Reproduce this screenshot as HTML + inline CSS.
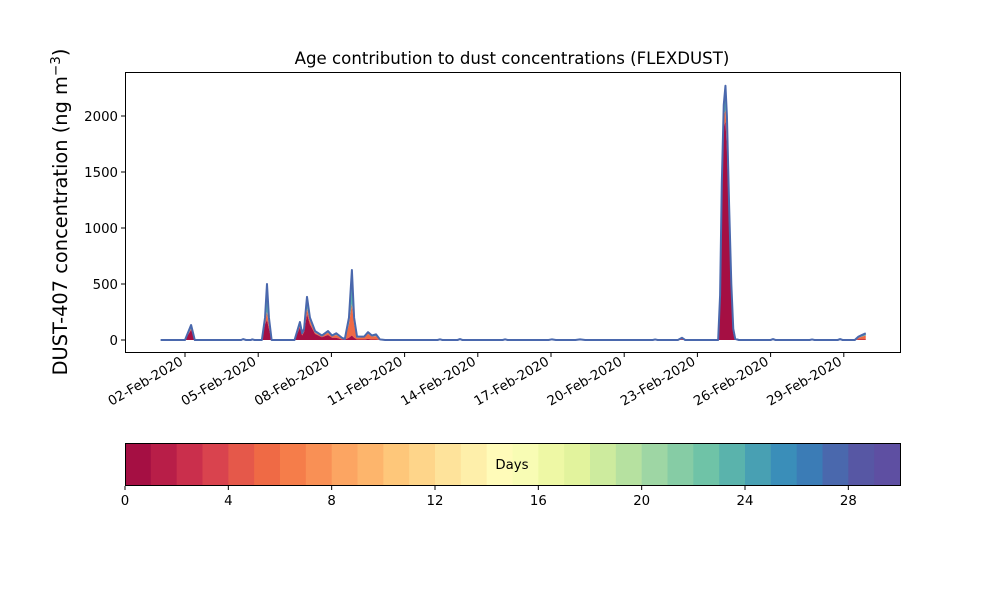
<!DOCTYPE html>
<html><head><meta charset="utf-8"><style>
body{margin:0;background:#fff;font-family:"DejaVu Sans",sans-serif}
svg text{font-family:"DejaVu Sans",sans-serif}
</style></head><body>
<svg id="c" width="1000" height="600"></svg>
<script>
const days=[1,2.0,2.25,2.4,4.3,4.38,4.5,4.7,4.75,4.85,5.15,5.28,5.36,5.44,5.55,6.49,6.71,6.8,6.88,7.0,7.12,7.33,7.61,7.86,8.03,8.2,8.43,8.55,8.72,8.84,8.93,9.05,9.34,9.5,9.66,9.83,9.99,10.2,12.35,12.45,12.55,13.17,13.27,13.37,15.02,15.12,15.22,16.9,17.04,17.2,18.0,18.19,18.4,21.17,21.27,21.37,22.2,22.37,22.5,23.85,23.93,24.0,24.08,24.15,24.21,24.3,24.39,24.47,24.55,24.7,26.0,26.1,26.2,27.6,27.7,27.8,28.75,28.85,28.95,29.45,29.6,29.75,29.9];
const total=[0,0,134,0,0,8,0,0,6,0,0,200,500,200,0,0,160,60,100,385,200,80,40,80,40,60,20,10,200,625,200,30,30,70,40,50,5,0,0,6,0,0,8,0,0,6,0,0,6,0,0,6,0,0,5,0,0,20,0,0,400,1400,2100,2270,2000,1200,500,100,10,0,0,8,0,0,5,0,0,8,0,0,30,45,60];
const red=[0,0,90,0,0,3,0,0,2,0,0,140,180,100,0,0,110,40,70,230,140,55,25,45,20,20,5,3,20,40,20,5,5,10,5,5,1,0,0,1,0,0,1,0,0,1,0,0,1,0,0,1,0,0,1,0,0,5,0,0,300,1200,1900,1950,1700,1000,380,60,3,0,0,2,0,0,1,0,0,2,0,0,5,5,5];
const orange=[0,0,10,0,0,2,0,0,2,0,0,20,70,30,0,0,20,10,10,50,30,10,8,20,12,25,10,5,120,280,120,15,18,45,25,30,2,0,0,2,0,0,3,0,0,2,0,0,2,0,0,2,0,0,2,0,0,8,0,0,40,100,100,100,120,80,50,20,3,0,0,3,0,0,2,0,0,3,0,0,15,25,35];
const yTicks=[0,500,1000,1500,2000];
const xTickDays=[2,5,8,11,14,17,20,23,26,29];
const xTickLabels=["02-Feb-2020","05-Feb-2020","08-Feb-2020","11-Feb-2020","14-Feb-2020","17-Feb-2020","20-Feb-2020","23-Feb-2020","26-Feb-2020","29-Feb-2020"];
const cbTicks=[0,4,8,12,16,20,24,28];
const cbColors=["#a50f43","#b81e48","#ca2f4c","#d9434e","#e5584a","#ef6a45","#f57d4a","#f99055","#fca562","#fdb56c","#fec77a","#fed58a","#fee39b","#feefaa","#fffbb9","#f8fcb4","#eef8a5","#e2f39d","#cdeb9e","#b6e1a0","#9ed6a4","#86cca5","#6fc3a7","#5ab3ac","#48a0b3","#3a8eb9","#3b7cb6","#4a68ad","#5757a4","#5e4fa2"];
const svg=document.getElementById('c');const NS='http://www.w3.org/2000/svg';
function el(t,a,p){const e=document.createElementNS(NS,t);for(const k in a)e.setAttribute(k,a[k]);(p||svg).appendChild(e);return e;}
const X=d=>160.6+(d-1)*24.4, Y=v=>340-v*0.112;
function area(lo,hi,fill,name){let d='M'+X(days[0])+','+Y(hi[0]);for(let i=1;i<days.length;i++)d+='L'+X(days[i])+','+Y(hi[i]);for(let i=days.length-1;i>=0;i--)d+='L'+X(days[i])+','+Y(lo[i]);const p=el('path',{d:d+'Z',fill:fill});}
const zero=days.map(()=>0), ro=red.map((r,i)=>r+orange[i]);
area(ro,total,'#5ab3ac','area-older');
area(red,ro,'#ef6a45','area-mid-age');
area(zero,red,'#a50f43','area-age-0');
let dl='';days.forEach((d,i)=>dl+=(i?'L':'M')+X(d)+','+Y(total[i]));
const ln=el('path',{d:dl,fill:'none',stroke:'#4a68ad','stroke-width':2,'stroke-linejoin':'round'});

const fr=el('rect',{x:125.5,y:72.5,width:775,height:280,fill:'none',stroke:'#000','stroke-width':1});

yTicks.forEach(v=>{el('line',{x1:121,x2:125,y1:Y(v),y2:Y(v),stroke:'#000'});const t=el('text',{x:118,y:Y(v)+5,'text-anchor':'end','font-size':13.3});t.textContent=v;});
xTickDays.forEach((d,i)=>{const x=X(d);el('line',{x1:x,x2:x,y1:353,y2:357,stroke:'#000'});const t=el('text',{x:x-1,y:364,'text-anchor':'end','font-size':13.3,transform:`rotate(-30 ${x-1} 364)`});t.textContent=xTickLabels[i];});
const ti=el('text',{x:512,y:64,'text-anchor':'middle','font-size':16.6});ti.textContent='Age contribution to dust concentrations (FLEXDUST)';
const yt=el('text',{x:0,y:0,'text-anchor':'middle','font-size':19.4,transform:'translate(67,212) rotate(-90)'});yt.innerHTML='DUST-407 concentration (ng m<tspan dy="-7" font-size="13.5">−3</tspan><tspan dy="7">)</tspan>';
const cw=775/30;
cbColors.forEach((c,i)=>{const r=el('rect',{x:125+i*cw,y:443,width:cw+0.5,height:42,fill:c});});
el('rect',{x:125.5,y:443.5,width:775,height:42,fill:'none',stroke:'#000'});
cbTicks.forEach(v=>{const x=125+v*cw;el('line',{x1:x,x2:x,y1:486,y2:490,stroke:'#000'});const t=el('text',{x:x,y:505,'text-anchor':'middle','font-size':13.3});t.textContent=v;});
const cl=el('text',{x:512,y:469,'text-anchor':'middle','font-size':13.3});cl.textContent='Days';
</script></body></html>
